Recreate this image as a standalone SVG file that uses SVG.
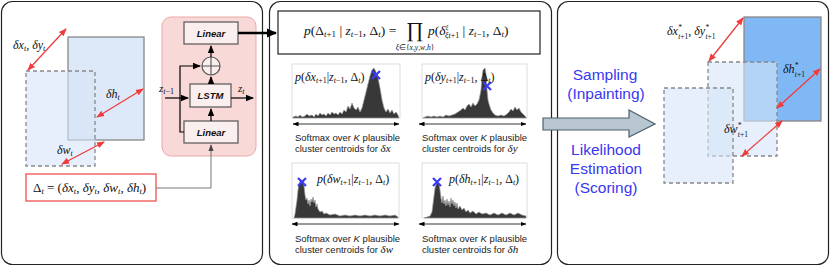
<svg xmlns="http://www.w3.org/2000/svg" width="830" height="266" viewBox="0 0 830 266">
<defs>
<marker id="ab" markerUnits="userSpaceOnUse" markerWidth="8" markerHeight="8" viewBox="0 0 8 8" refX="7" refY="4" orient="auto"><path d="M0,0.8 L8,4 L0,7.2 Z" fill="#000"/></marker>
<marker id="ab2" markerUnits="userSpaceOnUse" markerWidth="10" markerHeight="10" viewBox="0 0 10 10" refX="9" refY="5" orient="auto"><path d="M0,0.5 L10,5 L0,9.5 Z" fill="#000"/></marker>
<marker id="ag" markerUnits="userSpaceOnUse" markerWidth="7" markerHeight="7" viewBox="0 0 8 8" refX="7" refY="4" orient="auto"><path d="M0,1 L8,4 L0,7 Z" fill="#444"/></marker>
<marker id="ar" markerUnits="userSpaceOnUse" markerWidth="8" markerHeight="8" viewBox="0 0 8 8" refX="7" refY="4" orient="auto-start-reverse"><path d="M0,0.8 L8,4 L0,7.2 Z" fill="#f03c3c"/></marker>
<marker id="ak" markerUnits="userSpaceOnUse" markerWidth="6" markerHeight="6" viewBox="0 0 6 6" refX="5.5" refY="3" orient="auto-start-reverse"><path d="M0,0.8 L6,3 L0,5.2 Z" fill="#000"/></marker>
</defs>
<style>
.panel{fill:#fff;stroke:#222;stroke-width:1.2}
.box{fill:#fbeeee;stroke:#555;stroke-width:1.2}
.bl{font-family:"Liberation Sans",Arial,sans-serif;font-weight:bold;font-style:italic;font-size:9.5px;fill:#111;text-anchor:middle}
.m{font-family:"Liberation Serif","Times New Roman",serif;font-style:italic;fill:#111}
.u{font-style:normal}
.ar{fill:none;stroke:#000;stroke-width:1.2;marker-end:url(#ab)}
.red{fill:none;stroke:#f03c3c;stroke-width:1.3;marker-start:url(#ar);marker-end:url(#ar)}
.solid{fill:#dde8f8;stroke:#888;stroke-width:1.3}
.dash{fill:#d6e4f8;fill-opacity:0.6;stroke:#888;stroke-width:1.3;stroke-dasharray:4 3}
.hf{fill:#fff;stroke:#d4d4d4;stroke-width:0.8}
.hist{fill:#383838;stroke:#9a9a9a;stroke-width:0.7}
.hx{stroke:#3a3af5;stroke-width:2.2}
.dbl{stroke:#000;stroke-width:0.8;marker-start:url(#ak);marker-end:url(#ak)}
.sm{font-family:"Liberation Sans",Arial,sans-serif;font-size:9.5px;fill:#222}
.blue{font-family:"Liberation Sans",Arial,sans-serif;font-size:15.5px;fill:#3838f0;text-anchor:middle}
</style>

<g id="panels">
<rect class="panel" x="1.5" y="1.5" width="261" height="263" rx="11"/>
<rect class="panel" x="269.5" y="1.5" width="282" height="263" rx="11"/>
<rect class="panel" x="557.5" y="1.5" width="271" height="263" rx="11"/>
</g>

<g id="boxes-left">
<rect class="solid" x="68" y="37" width="76" height="103"/>
<rect class="dash" x="26" y="71" width="69" height="95"/>
</g>

<g id="lstm-module">
<rect x="162" y="17" width="94" height="139" rx="9" fill="#f9d8d8" stroke="#eaa9a9" stroke-width="1"/>
</g>
<g id="linear-top"><rect class="box" x="184" y="22" width="54" height="22"/><text class="bl" x="211" y="36.5">Linear</text></g>
<g id="plus"><circle class="box" cx="211" cy="66" r="9"/><path d="M202,66 H220 M211,57 V75" stroke="#555" stroke-width="1.1"/></g>
<g id="lstm"><rect class="box" x="190" y="84" width="41" height="23"/><text class="bl" x="210.5" y="99">LSTM</text></g>
<g id="linear-bottom"><rect class="box" x="184" y="121" width="54" height="22"/><text class="bl" x="211" y="135.5">Linear</text></g>
<g id="delta-box"><rect x="26" y="174" width="130" height="27" fill="#fff" stroke="#f05050" stroke-width="1.3"/>
<text class="m" x="33" y="192" font-size="13"><tspan class="u">Δ</tspan><tspan font-size="8.5" dy="2">t</tspan><tspan class="u" dy="-2"> = (</tspan>δx<tspan font-size="8.5" dy="2">t</tspan><tspan class="u" dy="-2">, </tspan>δy<tspan font-size="8.5" dy="2">t</tspan><tspan class="u" dy="-2">, </tspan>δw<tspan font-size="8.5" dy="2">t</tspan><tspan class="u" dy="-2">, </tspan>δh<tspan font-size="8.5" dy="2">t</tspan><tspan class="u" dy="-2">)</tspan></text></g>

<g id="labels-left">
<text class="m" x="13" y="49" font-size="12">δx<tspan font-size="8" dy="2">t</tspan><tspan class="u" dy="-2">, </tspan>δy<tspan font-size="8" dy="2">t</tspan></text>
<text class="m" x="106" y="98" font-size="12">δh<tspan font-size="8" dy="2">t</tspan></text>
<text class="m" x="57" y="154" font-size="12">δw<tspan font-size="8" dy="2">t</tspan></text>
<text class="m" x="159" y="92" font-size="11">z<tspan font-size="8" dy="2">t<tspan class="u">−1</tspan></tspan></text>
<text class="m" x="238" y="92" font-size="11">z<tspan font-size="8" dy="2">t</tspan></text>
</g>

<g id="formula">
<rect x="278" y="11" width="262" height="43" fill="#fff" stroke="#222" stroke-width="1.2"/>
<text class="m" x="304" y="35" font-size="13.5">p<tspan class="u">(Δ</tspan><tspan font-size="9" dy="2">t<tspan class="u">+1</tspan></tspan><tspan class="u" dy="-2">  |  </tspan>z<tspan font-size="9" dy="2">t<tspan class="u">−1</tspan></tspan><tspan class="u" dy="-2">, Δ</tspan><tspan font-size="9" dy="2">t</tspan><tspan class="u" dy="-2">) = </tspan></text>
<text class="m u" x="415" y="37" font-size="21" text-anchor="middle">∏</text>
<text class="m" x="415" y="49.5" font-size="7.5" text-anchor="middle">ξ<tspan class="u">∈{</tspan>x<tspan class="u">,</tspan>y<tspan class="u">,</tspan>w<tspan class="u">,</tspan>h<tspan class="u">}</tspan></text>
<text class="m" x="428" y="35" font-size="13.5">p<tspan class="u">(</tspan>δ<tspan font-size="7" dy="-6">ξ</tspan><tspan font-size="8" dx="-3.5" dy="9">ξt<tspan class="u">+1</tspan></tspan><tspan class="u" dy="-3">  |  </tspan>z<tspan font-size="9" dy="2">t<tspan class="u">−1</tspan></tspan><tspan class="u" dy="-2">, Δ</tspan><tspan font-size="9" dy="2">t</tspan><tspan class="u" dy="-2">)</tspan></text>
</g>

<g id="hist-x">
<rect class="hf" x="292" y="64" width="108" height="54"/>
<path class="hist" d="M293,118 L293,117 L296,116 L298,117 L300,115 L302,117 L305,116 L307,114 L309,116 L312,115 L314,117 L316,114 L318,116 L320,113 L322,115 L324,114 L326,116 L328,113 L330,115 L332,112 L334,114 L336,113 L338,115 L340,112 L342,114 L344,110 L346,112 L348,106 L350,109 L352,103 L354,108 L356,110 L358,107 L360,112 L362,108 L364,100 L366,92 L368,84 L370,76 L372,70 L374,68 L376,72 L378,78 L380,88 L382,100 L384,108 L386,112 L388,109 L390,113 L392,110 L394,114 L396,112 L398,115 L399,118 Z"/>
<path class="hx" d="M372,71 L380,79 M380,71 L372,79"/>
<text class="m" x="295" y="81" font-size="12">p<tspan class="u">(</tspan>δx<tspan font-size="8" dy="2">t<tspan class="u">+1</tspan></tspan><tspan class="u" dy="-2">|</tspan>z<tspan font-size="8" dy="2">t<tspan class="u">−1</tspan></tspan><tspan class="u" dy="-2">, Δ</tspan><tspan font-size="8" dy="2">t</tspan><tspan class="u" dy="-2">)</tspan></text>
<line class="dbl" x1="293" y1="124" x2="399" y2="124"/>
<text class="sm" x="295" y="140.5">Softmax over <tspan font-style="italic">K</tspan> plausible</text>
<text class="sm" x="295" y="151.5">cluster centroids for <tspan class="m" font-size="11"> δx</tspan></text>
</g>

<g id="hist-y">
<rect class="hf" x="422" y="64" width="105" height="54"/>
<path class="hist" d="M423,118 L425,117 L428,116 L431,117 L434,116 L437,117 L440,116 L443,117 L446,115 L449,116 L452,115 L455,114 L458,112 L461,110 L463,108 L465,110 L467,106 L469,104 L471,107 L473,103 L475,106 L477,104 L479,100 L481,90 L482,78 L483,70 L485,68 L486,74 L487,90 L488,100 L489,104 L491,110 L493,113 L495,115 L498,116 L501,115 L504,116 L507,114 L509,112 L511,109 L513,111 L515,107 L517,110 L519,108 L521,112 L523,114 L526,117 L526,118 Z"/>
<path class="hx" d="M483,82 L491,90 M491,82 L483,90"/>
<text class="m" x="425" y="81" font-size="12">p<tspan class="u">(</tspan>δy<tspan font-size="8" dy="2">t<tspan class="u">+1</tspan></tspan><tspan class="u" dy="-2">|</tspan>z<tspan font-size="8" dy="2">t<tspan class="u">−1</tspan></tspan><tspan class="u" dy="-2">, Δ</tspan><tspan font-size="8" dy="2">t</tspan><tspan class="u" dy="-2">)</tspan></text>
<line class="dbl" x1="419" y1="124" x2="526" y2="124"/>
<text class="sm" x="422" y="140.5">Softmax over <tspan font-style="italic">K</tspan> plausible</text>
<text class="sm" x="422" y="151.5">cluster centroids for <tspan class="m" font-size="11"> δy</tspan></text>
</g>

<g id="hist-w">
<rect class="hf" x="292" y="163" width="107" height="55"/>
<path class="hist" d="M294,218 L295,214 L297,200 L298,190 L299,184 L301,180 L303,181 L304,186 L305,195 L306,200 L307,198 L308,204 L309,200 L310,206 L311,199 L312,202 L313,197 L314,203 L315,200 L316,207 L317,204 L318,209 L320,212 L322,211 L324,214 L326,213 L330,215 L335,214 L340,216 L345,215 L350,216 L355,215 L360,216 L365,215 L370,216 L375,215 L380,216 L385,215 L390,216 L395,215 L398,217 L398,218 Z"/>
<path class="hx" d="M298,178 L306,186 M306,178 L298,186"/>
<text class="m" x="317" y="183" font-size="12">p<tspan class="u">(</tspan>δw<tspan font-size="8" dy="2">t<tspan class="u">+1</tspan></tspan><tspan class="u" dy="-2">|</tspan>z<tspan font-size="8" dy="2">t<tspan class="u">−1</tspan></tspan><tspan class="u" dy="-2">, Δ</tspan><tspan font-size="8" dy="2">t</tspan><tspan class="u" dy="-2">)</tspan></text>
<line class="dbl" x1="292" y1="224" x2="399" y2="224"/>
<text class="sm" x="295" y="241.5">Softmax over <tspan font-style="italic">K</tspan> plausible</text>
<text class="sm" x="295" y="252.5">cluster centroids for <tspan class="m" font-size="11"> δw</tspan></text>
</g>

<g id="hist-h">
<rect class="hf" x="422" y="163" width="105" height="55"/>
<path class="hist" d="M424,218 L427,217 L430,216 L432,212 L433,204 L434,196 L435,188 L437,182 L439,184 L440,190 L441,198 L442,203 L443,196 L444,204 L445,200 L446,206 L447,199 L448,205 L449,201 L450,207 L451,198 L452,204 L453,200 L454,206 L455,202 L456,208 L457,203 L458,209 L460,206 L462,210 L464,208 L466,212 L468,210 L470,213 L473,211 L476,214 L479,212 L482,214 L486,213 L490,215 L494,213 L498,215 L502,213 L506,215 L510,213 L514,215 L518,213 L522,215 L526,216 L526,218 Z"/>
<path class="hx" d="M433,178 L441,186 M441,178 L433,186"/>
<text class="m" x="449" y="183" font-size="12">p<tspan class="u">(</tspan>δh<tspan font-size="8" dy="2">t<tspan class="u">+1</tspan></tspan><tspan class="u" dy="-2">|</tspan>z<tspan font-size="8" dy="2">t<tspan class="u">−1</tspan></tspan><tspan class="u" dy="-2">, Δ</tspan><tspan font-size="8" dy="2">t</tspan><tspan class="u" dy="-2">)</tspan></text>
<line class="dbl" x1="419" y1="224" x2="526" y2="224"/>
<text class="sm" x="422" y="241.5">Softmax over <tspan font-style="italic">K</tspan> plausible</text>
<text class="sm" x="422" y="252.5">cluster centroids for <tspan class="m" font-size="11"> δh</tspan></text>
</g>

<g id="big-arrow">
<polygon points="543,118 629,118 629,110 655,124 629,137 629,130 543,130" fill="#b8c6d0" stroke="#4d6070" stroke-width="1.2"/>
</g>
<g id="mode-labels">
<text class="blue" x="605" y="80">Sampling</text>
<text class="blue" x="606" y="99">(Inpainting)</text>
<text class="blue" x="606" y="155">Likelihood</text>
<text class="blue" x="606" y="174">Estimation</text>
<text class="blue" x="606" y="193">(Scoring)</text>
</g>

<g id="boxes-right">
<rect x="744" y="17" width="77" height="104" fill="#80b8f6" stroke="#888" stroke-width="1.3"/>
<rect class="dash" x="708" y="62" width="69" height="94"/>
<rect class="dash" x="664" y="88" width="69" height="95"/>
</g>
<g id="labels-right">
<text class="m" x="667" y="35" font-size="12">δx<tspan font-size="7.5" dy="-5">*</tspan><tspan font-size="7.5" dx="-3.5" dy="9">t<tspan class="u">+1</tspan></tspan><tspan class="u" dy="-4">, </tspan>δy<tspan font-size="7.5" dy="-5">*</tspan><tspan font-size="7.5" dx="-3.5" dy="9">t<tspan class="u">+1</tspan></tspan></text>
<text class="m" x="783" y="73" font-size="12">δh<tspan font-size="7.5" dy="-5">*</tspan><tspan font-size="7.5" dx="-3.5" dy="9">t<tspan class="u">+1</tspan></tspan></text>
<text class="m" x="724" y="133" font-size="12">δw<tspan font-size="7.5" dy="-5">*</tspan><tspan font-size="7.5" dx="-3.5" dy="9">t<tspan class="u">+1</tspan></tspan></text>
</g>

<g id="connectors">
<path class="ar" d="M211,121 V109"/>
<path class="ar" d="M211,84 V77"/>
<path class="ar" d="M211,57 V46"/>
<path class="ar" d="M184,132 H180 V66 H200"/>
<path class="ar" d="M165,98 H188"/>
<path class="ar" d="M231,98 H253"/>
<path d="M238,33 H276" fill="none" stroke="#000" stroke-width="2.6" marker-end="url(#ab2)"/>
<path d="M156,188 H211 V145" fill="none" stroke="#666" stroke-width="0.9" marker-end="url(#ag)"/>
<line class="red" x1="28" y1="70" x2="66" y2="29"/>
<line class="red" x1="97" y1="117" x2="143" y2="89"/>
<line class="red" x1="62" y1="164" x2="104" y2="142"/>
<line class="red" x1="709" y1="61" x2="743" y2="18"/>
<line class="red" x1="777" y1="108" x2="820" y2="69"/>
<line class="red" x1="742" y1="156" x2="782" y2="121"/>
</g>
</svg>
